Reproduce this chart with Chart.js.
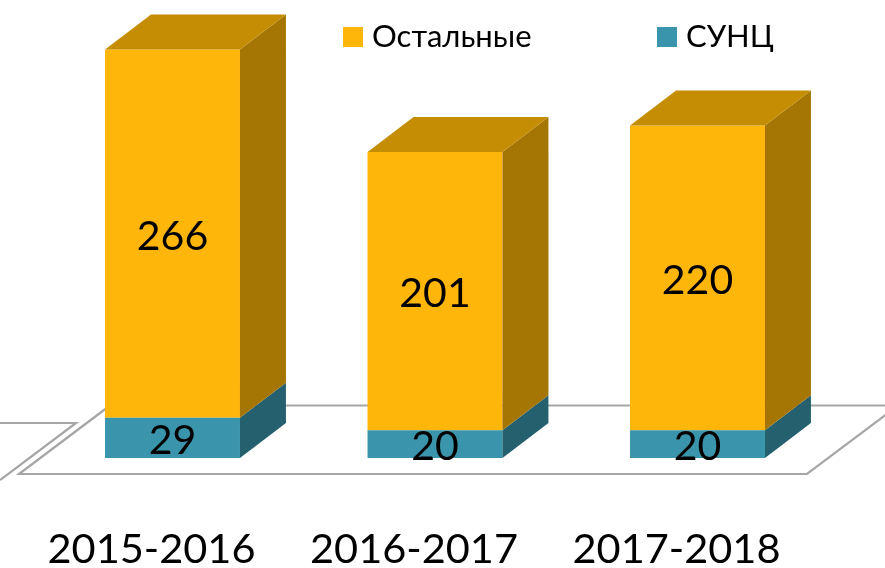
<!DOCTYPE html>
<html>
<head>
<meta charset="utf-8">
<title>Chart</title>
<script src="https://cdn.jsdelivr.net/npm/chart.js@4"></script>
<style>
  html, body { margin: 0; padding: 0; background: #fff; }
  canvas { display: block; }
</style>
</head>
<body>
<canvas id="chart" width="885" height="568"></canvas>
<script>
const categories = ['2015-2016', '2016-2017', '2017-2018'];
const suncValues = [29, 20, 20];
const otherValues = [266, 201, 220];
const FONT = 'Lato, "Noto Sans", sans-serif';

// darker colours for the fake 3d faces
const faces = {
  'Остальные': { side: '#A57603', top: '#C48D03' },
  'СУНЦ': { side: '#25606F', top: '#2C7385' }
};

const floorPlugin = {
  id: 'floor',
  beforeDatasetsDraw(chart) {
    const c = chart.ctx;
    c.save();
    c.strokeStyle = '#A6A6A6';
    c.lineWidth = 2.2;
    c.beginPath();
    c.moveTo(110, 405.5);
    c.lineTo(19, 474);
    c.lineTo(807, 474);
    c.lineTo(898, 405.5);
    c.closePath();
    c.stroke();
    c.beginPath();
    c.moveTo(0, 423);
    c.lineTo(76, 423);
    c.lineTo(0, 480);
    c.stroke();
    c.restore();
  }
};

const boxPlugin = {
  id: 'box3d',
  afterDatasetsDraw(chart) {
    const c = chart.ctx;
    const dx = 46, dy = 35;
    chart.data.datasets.forEach((ds, i) => {
      const meta = chart.getDatasetMeta(i);
      meta.data.forEach((bar) => {
        const right = bar.x + bar.width / 2;
        const left = bar.x - bar.width / 2;
        c.fillStyle = faces[ds.label].side;
        c.beginPath();
        c.moveTo(right, bar.base);
        c.lineTo(right + dx, bar.base - dy);
        c.lineTo(right + dx, bar.y - dy);
        c.lineTo(right, bar.y);
        c.closePath();
        c.fill();
        if (i === chart.data.datasets.length - 1) {
          c.fillStyle = faces[ds.label].top;
          c.beginPath();
          c.moveTo(left, bar.y);
          c.lineTo(left + dx, bar.y - dy);
          c.lineTo(right + dx, bar.y - dy);
          c.lineTo(right, bar.y);
          c.closePath();
          c.fill();
        }
      });
    });

    // value labels
    c.fillStyle = '#000';
    c.font = '41px ' + FONT;
    c.textAlign = 'center';
    c.textBaseline = 'middle';
    chart.data.datasets.forEach((ds, i) => {
      chart.getDatasetMeta(i).data.forEach((bar, j) => {
        c.fillText(ds.data[j], bar.x, (bar.y + bar.base) / 2 + 3);
      });
    });

    // legend, top series first
    const legendX = [343, 657];
    c.font = '31px ' + FONT;
    c.textAlign = 'left';
    chart.data.datasets.slice().reverse().forEach((ds, i) => {
      c.fillStyle = ds.backgroundColor;
      c.fillRect(legendX[i], 27, 20, 20);
      c.fillStyle = '#000';
      c.fillText(ds.label, legendX[i] + 29, 37);
    });
  }
};

new Chart(document.getElementById('chart'), {
  type: 'bar',
  data: {
    labels: categories,
    datasets: [
      { label: 'СУНЦ', data: suncValues, backgroundColor: '#3A94AB' },
      { label: 'Остальные', data: otherValues, backgroundColor: '#FFB60A' }
    ]
  },
  plugins: [floorPlugin, boxPlugin],
  options: {
    responsive: false,
    animation: false,
    layout: { padding: { left: 41.25, right: 56.25, top: 42.5, bottom: 0 } },
    plugins: { legend: { display: false }, tooltip: { enabled: false } },
    datasets: { bar: { categoryPercentage: 0.514, barPercentage: 1 } },
    scales: {
      x: {
        stacked: true,
        grid: { display: false },
        border: { display: false },
        afterFit(scale) { scale.height = 110; },
        ticks: {
          color: '#000',
          padding: 59,
          labelOffset: -21,
          maxRotation: 0,
          font: { family: FONT, size: 41.5 }
        }
      },
      y: { stacked: true, display: false, min: 0, max: 300 }
    }
  }
});
</script>
</body>
</html>
